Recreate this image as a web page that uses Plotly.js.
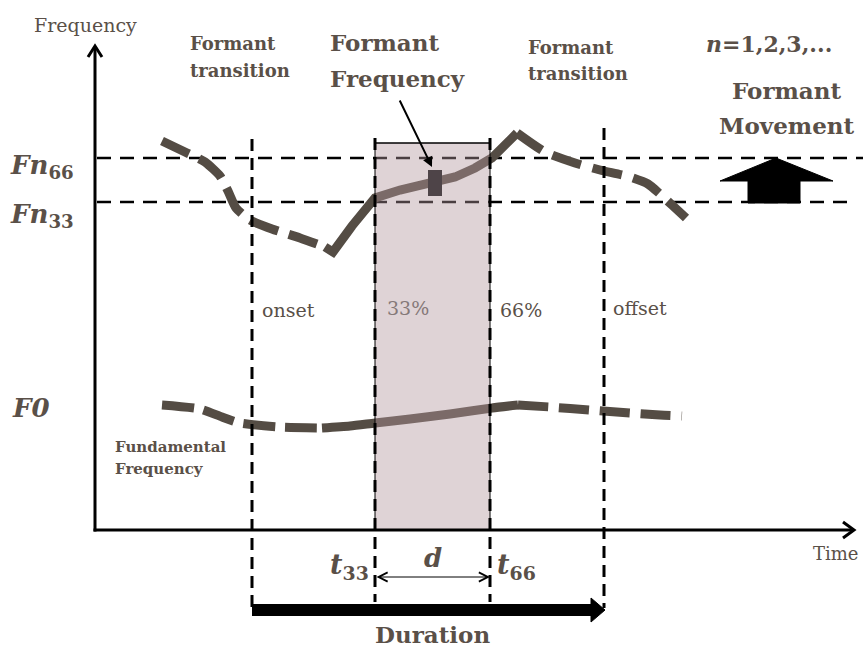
<!DOCTYPE html>
<html>
<head>
<meta charset="utf-8">
<script src="https://cdn.plot.ly/plotly-3.0.1.min.js"></script>
<style>html,body{margin:0;padding:0;background:#fff;}#chart{width:863px;height:648px;}</style>
</head>
<body>
<div id="chart"></div>
<script>
// ---- Data (diagram units: time along x, frequency position along y) ----
const formantLeftT  = [162, 185, 205, 220, 228, 236, 250, 272, 300, 325];
const formantLeftF  = [141, 152, 162, 176, 191, 208, 220, 229, 238, 247];
const formantMidT   = [325, 333, 352, 375, 400, 430, 455, 475, 492, 517];
const formantMidF   = [247, 252, 226, 198, 190, 184, 177, 168, 158, 133];
const formantRightT = [517, 545, 575, 600, 630, 648, 660, 672, 686];
const formantRightF = [133, 152, 163, 170, 177, 184, 194, 205, 218];

const f0LeftT  = [162, 200, 222, 240, 280, 322];
const f0LeftF  = [405, 409, 417, 423, 427, 428];
const f0MidT   = [322, 350, 375, 410, 450, 492, 518];
const f0MidF   = [428, 426, 423, 419, 414, 408, 405];
const f0RightT = [518, 550, 590, 630, 660, 682];
const f0RightF = [405, 407, 410, 413, 415, 416];

const markerTime = 435, markerFreq = 183;
const fn66Level = 158, fn33Level = 202;
const onsetT = 252, t33 = 375, t66 = 490, offsetT = 604;
const axisOriginT = 95, axisOriginF = 530;

const pointLabels = ['onset', '33%', '66%', 'offset'];

// ---- Styles ----
const INK = '#544c44';
const TXT = '#5a5048';
const FONT = 'DejaVu Serif';

function curve(t, f, dash, color, shape) {
  return {x: t, y: f, mode: 'lines', type: 'scatter', hoverinfo: 'skip',
    line: {color: color || INK, width: 9, dash: dash, shape: shape || 'spline', smoothing: 0.6}};
}

const traces = [
  curve(formantLeftT, formantLeftF, '30px,11px'),
  curve(formantMidT, formantMidF, 'solid', INK, 'linear'),
  curve(formantRightT, formantRightF, '30px,12px'),
  curve(f0LeftT, f0LeftF, '32px,10px'),
  curve(f0MidT, f0MidF, 'solid'),
  curve(f0RightT, f0RightF, '30px,11px')
];

const shapes = [
  // horizontal reference levels
  {type:'line', layer:'below', x0:97, x1:863, y0:fn66Level, y1:fn66Level, line:{color:'#000', width:2.5, dash:'14px,9px'}},
  {type:'line', layer:'below', x0:97, x1:850, y0:fn33Level, y1:fn33Level, line:{color:'#000', width:2.5, dash:'14px,9px'}},
  // shaded analysis window
  {type:'rect', layer:'above', x0:t33, x1:t66, y0:143, y1:axisOriginF, fillcolor:'rgba(178,149,156,0.415)', line:{width:0}},
  {type:'line', layer:'above', x0:t33, x1:t66, y0:143, y1:143, line:{color:'#000', width:1.5}},
  {type:'line', layer:'above', x0:t33, x1:t33, y0:143, y1:axisOriginF, line:{color:'#000', width:1}},
  {type:'line', layer:'above', x0:t66, x1:t66, y0:143, y1:axisOriginF, line:{color:'#000', width:1}},
  // vertical time markers
  {type:'line', layer:'above', x0:onsetT, x1:onsetT, y0:139, y1:608, line:{color:'#000', width:3, dash:'12px,7px'}},
  {type:'line', layer:'above', x0:t33, x1:t33, y0:138, y1:602, line:{color:'#000', width:3, dash:'12px,7px'}},
  {type:'line', layer:'above', x0:t66, x1:t66, y0:138, y1:602, line:{color:'#000', width:3, dash:'12px,7px'}},
  {type:'line', layer:'above', x0:offsetT, x1:offsetT, y0:128, y1:608, line:{color:'#000', width:3, dash:'12px,7px'}},
  // formant frequency measurement marker
  {type:'rect', layer:'above', x0:markerTime-7, x1:markerTime+7, y0:markerFreq-13, y1:markerFreq+13, fillcolor:'#4e4448', line:{width:0}},
  // axes
  {type:'line', layer:'above', x0:axisOriginT, x1:axisOriginT, y0:47, y1:axisOriginF+1.5, line:{color:'#000', width:3}},
  {type:'path', layer:'above', path:'M88,57 L95,46 L102,57', line:{color:'#000', width:3}},
  {type:'line', layer:'above', x0:axisOriginT-1.5, x1:853, y0:axisOriginF, y1:axisOriginF, line:{color:'#000', width:3}},
  {type:'path', layer:'above', path:'M843,522 L854,530 L843,538', line:{color:'#000', width:3}},
  // duration arrow
  {type:'line', layer:'above', x0:onsetT, x1:offsetT-12, y0:610, y1:610, line:{color:'#000', width:12}},
  {type:'path', layer:'above', path:'M'+(offsetT-13)+',598 L'+(offsetT+1)+',610 L'+(offsetT-13)+',622 Z', fillcolor:'#000', line:{color:'#000', width:1}},
  // formant movement arrow
  {type:'path', layer:'above', path:'M720,181 L776,158 L833,181 L800,181 L800,203 L748,203 L748,181 Z', fillcolor:'#000', line:{color:'#000', width:1}}
];

function txt(x, y, text, size, opts) {
  return Object.assign({x:x, y:y, xref:'x', yref:'y', text:text, showarrow:false,
    xanchor:'left', yanchor:'middle', font:{family:FONT, size:size, color:TXT}}, opts || {});
}

const annotations = [
  txt(85, 25, 'Frequency', 19, {xanchor:'center'}),
  txt(188, 43, '<b>Formant</b>', 18),
  txt(188, 70, '<b>transition</b>', 18),
  txt(328, 42, '<b>Formant</b>', 23),
  txt(328, 78, '<b>Frequency</b>', 23),
  txt(526, 47, '<b>Formant</b>', 18),
  txt(526, 73, '<b>transition</b>', 18),
  txt(704, 44, '<b><i>n</i>=1,2,3,...</b>', 22),
  txt(786, 90, '<b>Formant</b>', 23, {xanchor:'center'}),
  txt(786, 125, '<b>Movement</b>', 23, {xanchor:'center'}),
  txt(8, 166, '<b><i>Fn</i><sub>66</sub></b>', 26),
  txt(8, 215, '<b><i>Fn</i><sub>33</sub></b>', 26),
  txt(10, 408, '<b><i>F0</i></b>', 26),
  txt(260, 310, pointLabels[0], 19),
  txt(385, 308, pointLabels[1], 19, {font:{family:FONT, size:19, color:'#857878'}}),
  txt(498, 310, pointLabels[2], 19),
  txt(611, 308, pointLabels[3], 19),
  txt(113, 447, '<b>Fundamental</b>', 15),
  txt(113, 469, '<b>Frequency</b>', 15),
  txt(328, 566, '<b><i>t</i><sub>33</sub></b>', 27),
  txt(433, 558, '<b><i>d</i></b>', 26, {xanchor:'center'}),
  txt(495, 566, '<b><i>t</i><sub>66</sub></b>', 27),
  txt(432, 634, '<b>Duration</b>', 23, {xanchor:'center'}),
  txt(811, 553, 'Time', 18),
  // arrow from "Formant Frequency" label to the marker
  {x:markerTime-3, y:markerFreq-16, ax:399, ay:99, xref:'x', yref:'y', axref:'x', ayref:'y', text:'', showarrow:true,
    arrowhead:2, arrowsize:1, arrowwidth:2, arrowcolor:'#000'},
  // d double-headed arrow
  {x:t66, y:577, ax:t33, ay:577, xref:'x', yref:'y', axref:'x', ayref:'y', text:'', showarrow:true,
    arrowside:'end+start', arrowhead:5, startarrowhead:5, arrowsize:1.8, startarrowsize:1.8, arrowwidth:1, arrowcolor:'#000'}
];

const layout = {
  width: 863, height: 648,
  margin: {l:0, r:0, t:0, b:0, pad:0},
  paper_bgcolor: '#fff', plot_bgcolor: 'rgba(0,0,0,0)',
  showlegend: false,
  xaxis: {range:[0, 863], visible:false, fixedrange:true},
  yaxis: {range:[648, 0], visible:false, fixedrange:true},
  shapes: shapes,
  annotations: annotations
};

Plotly.newPlot('chart', traces, layout, {staticPlot:true, displayModeBar:false});
</script>
</body>
</html>
